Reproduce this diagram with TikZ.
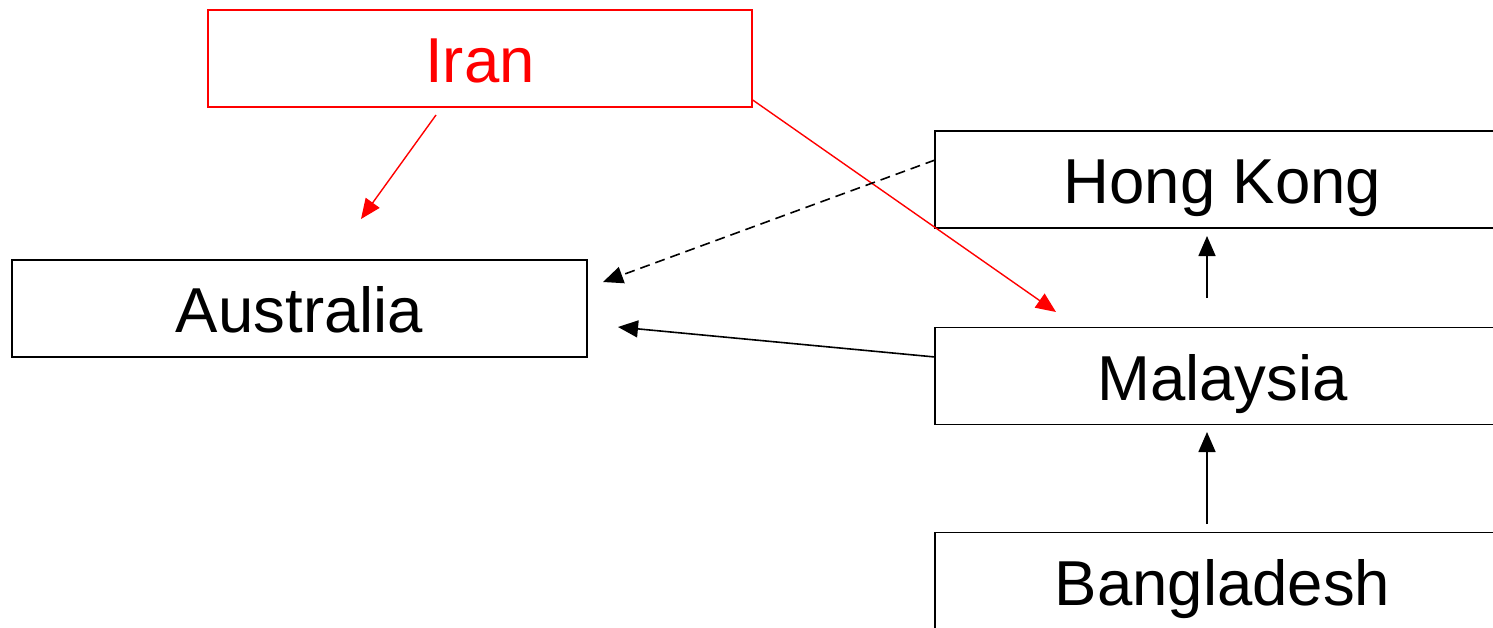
\documentclass[tikz,border=0pt]{standalone}
\usepackage{fontspec}
\setmainfont{Liberation Sans}
\usetikzlibrary{arrows.meta}
\tikzset{
  country/.style={draw=black, line width=1.6pt, minimum width=575pt, minimum height=97pt,
    inner sep=0pt, text height=50pt, text depth=2pt,
    font=\fontsize{63.5}{70}\selectfont, anchor=center},
  redcountry/.style={country, draw=red, text=red, line width=1.4pt, minimum width=544pt},
  link/.style={line width=1.6pt, -{Triangle[length=20pt,width=17pt]}},
  redlink/.style={link, draw=red, line width=1.4pt, -{Triangle[length=20pt,width=17pt]}, color=red},
}
\begin{document}
\begin{tikzpicture}[x=1pt, y=-1pt]
  \useasboundingbox (0,0) rectangle (1493,627);
  \clip (0,0) rectangle (1493,627);
  \fill[white] (0,0) rectangle (1493,627);

  % country boxes
  \node[redcountry] (iran) at (480,58.5) {Iran};
  \node[country] (aus) at (299.5,308.5) {Australia};
  \node[country] (hk) at (1222.5,179.5) {Hong Kong};
  \node[country] (mal) at (1222.5,376) {Malaysia};
  \node[country] (ban) at (1222.5,581) {Bangladesh};

  % free ends of the connectors
  \coordinate (iranA) at (436,115);
  \coordinate (ausTopTip) at (361,219);
  \coordinate (ausDashTip) at (603,282);
  \coordinate (ausLowTip) at (618,327);
  \coordinate (malTopTip) at (1056,312);
  \coordinate (hkStart) at (935,160);
  \coordinate (malStart) at (935,357);
  \coordinate (malUp) at (1207,298);
  \coordinate (hkTip) at (1207,236);
  \coordinate (banUp) at (1207,524);
  \coordinate (malTip) at (1207,432);

  % connectors
  \draw[redlink] (iranA) -- (ausTopTip);
  \draw[redlink] (iran.north east |- 0,100) -- (malTopTip);
  \draw[link, dash pattern=on 10pt off 6pt] (hkStart) -- (ausDashTip);
  \draw[link] (malStart) -- (ausLowTip);
  \draw[link] (malUp) -- (hkTip);
  \draw[link] (banUp) -- (malTip);
\end{tikzpicture}
\end{document}
